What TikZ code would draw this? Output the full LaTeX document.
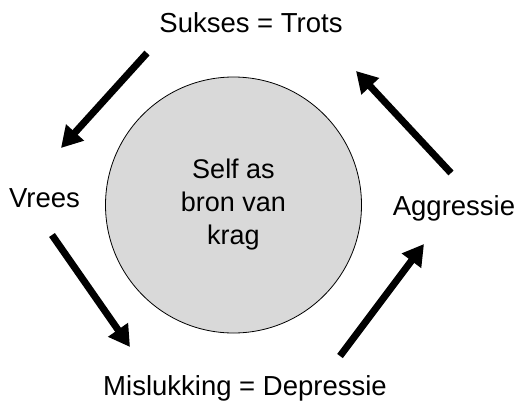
\documentclass[tikz,border=0pt]{standalone}
\usepackage{fontspec}
\setmainfont{Liberation Sans}
\usetikzlibrary{arrows.meta}

\begin{document}
\begin{tikzpicture}[x=1pt,y=-1pt,
  lbl/.style={font=\fontsize{27.5}{33}\selectfont,inner sep=0pt,anchor=base},
  flow/.style={-{Triangle[length=21pt,width=23pt]},line width=7pt}]

  \useasboundingbox (0,0) rectangle (518,401);

  \node[circle,draw,line width=0.8pt,fill=black!15,minimum size=256pt,
        align=center,font=\fontsize{27}{33}\selectfont] (self) at (233.5,205)
        {Self as\\bron van\\krag};

  \node[lbl] (trots) at (251,33) {Sukses = Trots};
  \node[lbl] (vrees) at (44.5,207) {Vrees};
  \node[lbl] (depr) at (245,395) {Mislukking = Depressie};
  \node[lbl] (aggr) at (454,215) {Aggressie};

  % loose ends of the arrows
  \coordinate (t1) at (147,53);
  \coordinate (v1) at (61,148);
  \coordinate (v2) at (52,235);
  \coordinate (d1) at (130,347);
  \coordinate (d2) at (340,356);
  \coordinate (a1) at (424,244);
  \coordinate (a2) at (451,173);
  \coordinate (t2) at (356,71);

  \draw[flow] (t1) -- (v1);
  \draw[flow] (v2) -- (d1);
  \draw[flow] (d2) -- (a1);
  \draw[flow] (a2) -- (t2);
\end{tikzpicture}
\end{document}
